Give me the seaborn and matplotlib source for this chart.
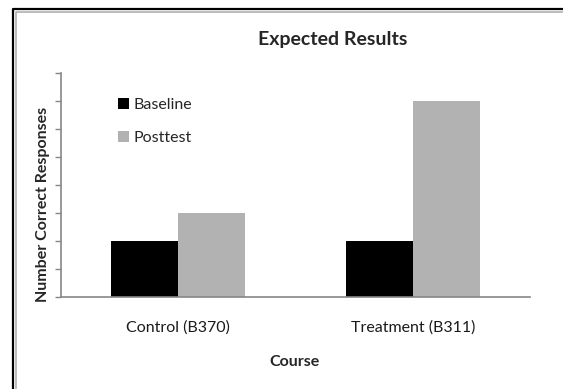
import pandas as pd
import seaborn as sns
import matplotlib.pyplot as plt
from matplotlib.lines import Line2D

# values (y axis 0-8, no tick labels)
courses = ["Control (B370)", "Treatment (B311)"]
baseline = [2, 2]
posttest = [3, 7]
series = ["Baseline", "Posttest"]

df = pd.DataFrame({
    "Course": courses * 2,
    "Score": baseline + posttest,
    "Test": [series[0]] * len(courses) + [series[1]] * len(courses),
})

sns.set_theme(style="white")
plt.rcParams['font.family'] = ['Lato', 'DejaVu Sans']

W, H = 563, 389
fig = plt.figure(figsize=(W / 100, H / 100), dpi=100)
ax = fig.add_axes([61 / W, 1 - 296.7 / H, (530 - 61) / W, (296.7 - 72.7) / H])

sns.barplot(data=df, x="Course", y="Score", hue="Test", order=courses,
            hue_order=series, palette=["#000000", "#b2b2b2"],
            width=0.57, gap=0, saturation=1, ax=ax, linewidth=0)

axis_col = "#868686"
ax.set_xlim(-0.5, 1.5)
ax.set_ylim(0, 8)
ax.set_yticks(range(0, 9))
ax.set_yticklabels([])
ax.set_xticks([-0.5, 0.5, 1.5], minor=True)
ax.tick_params(axis="x", which="major", length=0, labelsize=11.5, pad=17, colors="#1a1a1a")
ax.tick_params(axis="x", which="minor", length=5, width=1, color=axis_col, direction="out")
ax.tick_params(axis="y", length=4, width=1, color=axis_col, direction="out", left=True)
for s in ["top", "right"]:
    ax.spines[s].set_visible(False)
for s in ["left", "bottom"]:
    ax.spines[s].set_color(axis_col)
    ax.spines[s].set_linewidth(1.2)
ax.set_xlabel("")
ax.set_ylabel("")

handles, labels = ax.get_legend_handles_labels()
ax.legend(handles, labels, loc="upper left", bbox_to_anchor=(118 / W, 1 - 98 / H),
          bbox_transform=fig.transFigure, frameon=False, fontsize=11.5,
          handlelength=0.7, handleheight=0.7, handletextpad=0.3,
          labelspacing=1.15, borderaxespad=0, borderpad=0)

fig.text(333 / W, 1 - 39 / H, "Expected Results", ha="center", va="center",
         fontsize=14, fontweight="bold")
fig.text(43 / W, 1 - 204 / H, "Number Correct Responses", ha="center", va="center",
         rotation=90, fontsize=11.5, fontweight="bold")
fig.text(295 / W, 1 - 362 / H, "Course", ha="center", va="center",
         fontsize=11.5, fontweight="bold")

# chart area frame (cut off at right and bottom in the reference)
fig.add_artist(Line2D([12.5 / W, 12.5 / W, 1], [0, 1 - 8.5 / H, 1 - 8.5 / H],
                      transform=fig.transFigure, color="black", lw=1.6))
fig.add_artist(Line2D([15.5 / W, 15.5 / W, 1], [0, 1 - 11.5 / H, 1 - 11.5 / H],
                      transform=fig.transFigure, color="#aaaaaa", lw=1.1))

fig.savefig("out.png", dpi=100)
